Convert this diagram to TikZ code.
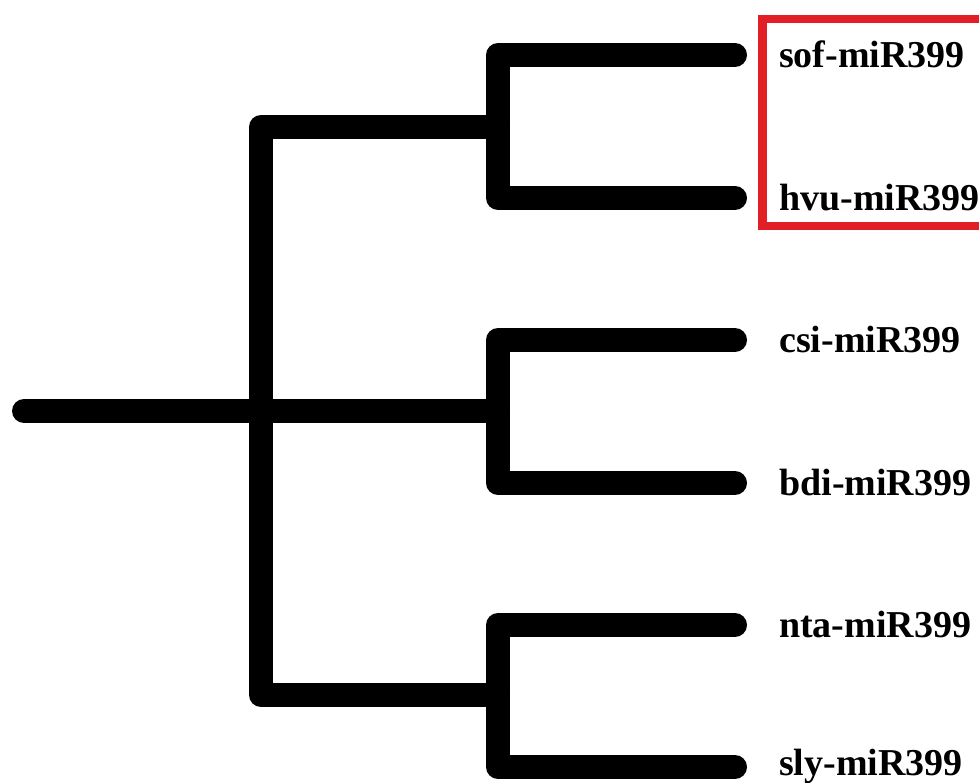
\documentclass[tikz,border=0pt]{standalone}
\usepackage{fontspec}
\setmainfont{Liberation Serif}
\definecolor{boxred}{RGB}{226,30,38}
\begin{document}
\begin{tikzpicture}[x=1pt,y=-1pt,
  branch/.style={line width=24pt,black,line cap=round,line join=round},
  leaflabel/.style={anchor=base west,inner sep=0pt,font=\fontsize{38}{40}\selectfont\bfseries},
  hibox/.style={draw=boxred,line width=8.5pt}]
\useasboundingbox (0,0) rectangle (979,783);
\clip (0,0) rectangle (979,783);
% internal coordinates
\coordinate (root) at (24,411);
\coordinate (n0) at (261,411);
\coordinate (n0t) at (261,127);
\coordinate (n0b) at (261,695);
\coordinate (c1) at (498,127);
\coordinate (c2) at (498,411);
\coordinate (c3) at (498,695);
\coordinate (c1t) at (498,55);
\coordinate (c1b) at (498,198);
\coordinate (c2t) at (498,340);
\coordinate (c2b) at (498,483);
\coordinate (c3t) at (498,625);
\coordinate (c3b) at (498,767);
% leaf tips
\coordinate (t1) at (735,55);
\coordinate (t2) at (735,198);
\coordinate (t3) at (735,340);
\coordinate (t4) at (735,483);
\coordinate (t5) at (735,625);
\coordinate (t6) at (735,767);
% labels
\node[leaflabel] (l1) at (779,67.5) {sof-miR399};
\node[leaflabel] (l2) at (779,210.5) {hvu-miR399};
\node[leaflabel] (l3) at (779,352.5) {csi-miR399};
\node[leaflabel] (l4) at (779,495.5) {bdi-miR399};
\node[leaflabel] (l5) at (779,637.5) {nta-miR399};
\node[leaflabel] (l6) at (779,775) {sly-miR399};
% branches
\draw[branch] (root) -- (c2);
\draw[branch] (c1) -- (n0t) -- (n0b) -- (c3);
\draw[branch] (t1) -- (c1t) -- (c1b) -- (t2);
\draw[branch] (t3) -- (c2t) -- (c2b) -- (t4);
\draw[branch] (t5) -- (c3t) -- (c3b) -- (t6);
% highlight box
\draw[hibox] (762.5,19) rectangle (995,226);
\end{tikzpicture}
\end{document}
